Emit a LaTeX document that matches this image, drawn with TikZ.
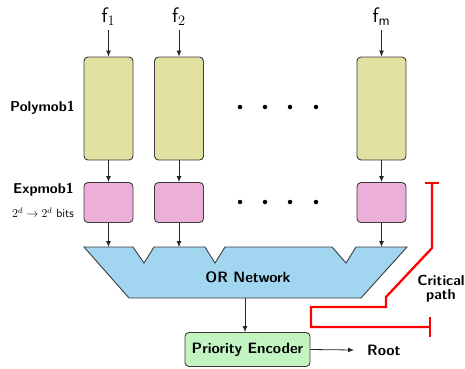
\documentclass[tikz,border=0pt]{standalone}
\usetikzlibrary{arrows.meta,calc}
\definecolor{polyfill}{RGB}{225,225,161}
\definecolor{expfill}{RGB}{237,175,218}
\definecolor{orfill}{RGB}{162,214,240}
\definecolor{prifill}{RGB}{194,244,194}
\definecolor{edge}{RGB}{60,60,60}
\tikzset{
  blk/.style={draw=edge, line width=0.9pt, rounded corners=4pt, inner sep=0pt},
  polyblk/.style={blk, fill=polyfill, minimum width=49pt, minimum height=103pt},
  expblk/.style={blk, fill=expfill, minimum width=49pt, minimum height=40pt},
  bigbold/.style={font=\sffamily\bfseries\fontsize{15}{17}\selectfont, inner sep=0pt},
  prio/.style={blk, fill=prifill, minimum width=125pt, minimum height=34pt, font=\sffamily\bfseries\fontsize{15}{17}\selectfont},
  lbl/.style={font=\sffamily\bfseries\fontsize{14.3}{16}\selectfont, inner sep=0pt},
  flbl/.style={font=\sffamily\fontsize{21}{23}\selectfont, inner sep=0pt},
  wire/.style={draw=black!85, line width=0.8pt, -{Latex[length=6pt,width=5pt]}},
  dotmark/.style={circle, fill=black, inner sep=0pt, minimum size=4.5pt},
  crit/.style={draw=red, line width=2.3pt},
}
\begin{document}
\begin{tikzpicture}[x=1pt,y=-1pt]
\useasboundingbox (0,0) rectangle (465,368);

% Polymob1 blocks
\node[polyblk] (p1) at (108.5,108.5) {};
\node[polyblk] (p2) at (179,108.5) {};
\node[polyblk] (pm) at (381.5,108.5) {};

% Expmob1 blocks
\node[expblk] (e1) at (108.5,202.5) {};
\node[expblk] (e2) at (179,202.5) {};
\node[expblk] (em) at (381.5,202.5) {};

% inputs
\node[flbl] (f1) at (108.5,17) {f$_1$};
\node[flbl] (f2) at (179,17) {f$_2$};
\node[flbl] (fm) at (381.5,17) {f$_\mathsf{m}$};
\draw[wire] (p1.north |- 0,30) -- (p1.north);
\draw[wire] (p2.north |- 0,30) -- (p2.north);
\draw[wire] (pm.north |- 0,30) -- (pm.north);

\draw[wire] (p1.south) -- (e1.north);
\draw[wire] (p2.south) -- (e2.north);
\draw[wire] (pm.south) -- (em.north);

% side labels
\node[lbl, anchor=west] (lpoly) at (10,108) {Polymob1};
\node[lbl, anchor=west] (lexp) at (13,190) {Expmob1};
\node[anchor=west, inner sep=0pt, font=\sffamily\fontsize{12}{14}\selectfont] (lbits) at (12,213) {$2^d\rightarrow 2^d$ bits};

% ellipsis dots
\foreach \x [count=\i] in {240,265,290,316} {
  \node[dotmark] (dt\i) at (\x,107) {};
  \node[dotmark] (db\i) at (\x,202) {};
}

% OR network
\draw[draw=edge, line width=0.9pt, fill=orfill, line join=miter]
  (84,247) -- (133,247) -- (144,263) -- (154,247) -- (205,247) -- (215,263)
  -- (225,247) -- (332,247) -- (346,263) -- (356,247) -- (407,247)
  -- (361,298) -- (129,298) -- cycle;
\coordinate (ortop) at (245,247);
\coordinate (orbot) at (245,298);
\node[bigbold] (ornet) at (248,277) {OR Network};

\draw[wire] (e1.south) -- (e1.south |- ortop);
\draw[wire] (e2.south) -- (e2.south |- ortop);
\draw[wire] (em.south) -- (em.south |- ortop);

% priority encoder
\node[prio] (pe) at (247.5,349.5) {Priority Encoder};
\draw[wire] (orbot) -- (orbot |- pe.north);
\node[bigbold, anchor=west] (root) at (367,350) {Root};
\draw[wire] (pe.east) -- ([xshift=-13pt]root.west);

% critical path
\coordinate (ctop) at (432,183);
\coordinate (cend) at (430,327);
\draw[crit] (425,183) -- (439,183);
\draw[crit, line join=miter] (ctop) -- (432,248) -- (386,297) -- (386,307) -- (311,307) -- (311,327) -- (cend);
\draw[crit] (430,317) -- (430,337);
\node[lbl, align=center, font=\sffamily\bfseries\fontsize{14.5}{13.5}\selectfont] (crlbl) at (441,289) {Critical\\path};
\end{tikzpicture}
\end{document}
